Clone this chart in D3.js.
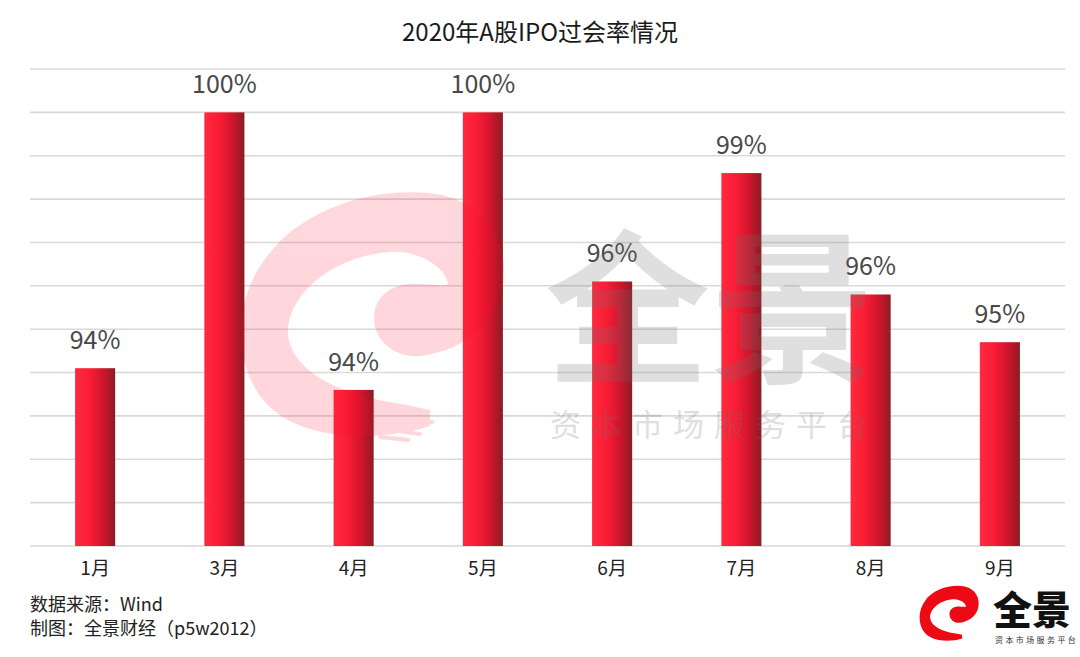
<!DOCTYPE html>
<html>
<head>
<meta charset="utf-8">
<script src="https://cdn.jsdelivr.net/npm/d3@7"></script>
<style>
  html, body { margin: 0; padding: 0; background: #fff; }
  body { width: 1080px; height: 657px; overflow: hidden; }
  text { font-family: "Noto Sans CJK SC", "Noto Sans", sans-serif; }
</style>
</head>
<body>
<div id="chart"></div>
<script>
// Data
const months = ["1月", "3月", "4月", "5月", "6月", "7月", "8月", "9月"];
const passRates = [94.1, 100, 93.6, 100, 96.1, 98.6, 95.8, 94.7];
const rateLabels = ["94%", "100%", "94%", "100%", "96%", "99%", "96%", "95%"];
const gridTicks = [90, 91, 92, 93, 94, 95, 96, 97, 98, 99, 100, 101];

const width = 1080, height = 657;

// Set up the SVG
const svg = d3.select("#chart")
    .append("svg")
    .attr("width", width)
    .attr("height", height);

const defs = svg.append("defs");
const grad = defs.append("linearGradient")
    .attr("id", "barGrad")
    .attr("x1", "0%").attr("x2", "100%")
    .attr("y1", "0%").attr("y2", "0%");
grad.append("stop").attr("offset", "0%").attr("stop-color", "#ff2a3e");
grad.append("stop").attr("offset", "35%").attr("stop-color", "#f91d35");
grad.append("stop").attr("offset", "70%").attr("stop-color", "#cf152c");
grad.append("stop").attr("offset", "100%").attr("stop-color", "#8c1c24");

// Scales
const xScale = d3.scaleBand()
    .domain(months)
    .range([30.5, 1064.5])
    .paddingInner(0.69)
    .paddingOuter(0.345);

const yScale = d3.scaleLinear().domain([90, 101]).range([546, 69]);

// Title
svg.append("text")
    .attr("x", width / 2)
    .attr("y", 41)
    .attr("text-anchor", "middle")
    .style("font-size", "24px")
    .style("fill", "#1a1a1a")
    .text("2020年A股IPO过会率情况");

// Gridlines (the lowest one is the axis line)
svg.append("g")
    .attr("class", "grid")
    .selectAll("line")
    .data(gridTicks)
    .enter().append("line")
    .attr("x1", 30)
    .attr("x2", 1065)
    .attr("y1", d => yScale(d))
    .attr("y2", d => yScale(d))
    .attr("stroke", "#d9d9d9")
    .attr("stroke-width", 1.6);

// Bars
svg.append("g")
    .selectAll("rect")
    .data(passRates)
    .enter().append("rect")
    .attr("x", (d, i) => xScale(months[i]))
    .attr("y", d => yScale(d))
    .attr("width", xScale.bandwidth())
    .attr("height", d => yScale(90) - yScale(d))
    .attr("fill", "url(#barGrad)");

// Value labels
svg.append("g")
    .selectAll("text")
    .data(passRates)
    .enter().append("text")
    .attr("x", (d, i) => xScale(months[i]) + xScale.bandwidth() / 2)
    .attr("y", d => yScale(d) - 19)
    .attr("text-anchor", "middle")
    .style("font-size", "25px")
    .style("fill", "#484848")
    .text((d, i) => rateLabels[i]);

// X axis labels
const xAxis = svg.append("g")
    .attr("transform", "translate(0, 546)")
    .call(d3.axisBottom(xScale).tickSize(0).tickPadding(16));
xAxis.select(".domain").remove();
xAxis.selectAll("text")
    .style("font-family", "'Noto Sans CJK SC', sans-serif")
    .style("font-size", "19px")
    .style("fill", "#222");

// Swirl logo path (watermark + corner logo)
const swirl = "M430,426 C380,442 300,442 265,402 C232,365 234,298 266,258 " +
    "C302,206 382,184 442,195 C492,206 512,252 501,292 C490,332 455,352 420,356 " +
    "C395,358 374,341 374,318 C374,298 390,285 410,284 C426,283 440,287 448,284 " +
    "C446,268 420,250 390,252 C330,256 285,298 288,335 C292,372 342,396 402,404 " +
    "L430,410 Z";

const wm = svg.append("g").attr("opacity", 0.16);
wm.append("path").attr("d", swirl).attr("fill", "#ff0a2a");
[[395, 410, 428, 413], [400, 420, 432, 422], [392, 430, 420, 434], [380, 437, 408, 440]].forEach(s => {
    wm.append("line")
        .attr("x1", s[0]).attr("y1", s[1]).attr("x2", s[2]).attr("y2", s[3])
        .attr("stroke", "#ff0a2a").attr("stroke-width", 4).attr("stroke-linecap", "round");
});

// Gray watermark text
const gw = svg.append("g").attr("opacity", 0.22);
gw.append("text")
    .attr("x", 545)
    .attr("y", 370)
    .style("font-size", "165px")
    .style("font-weight", "700")
    .style("fill", "#707070")
    .text("全景");
gw.append("text")
    .attr("x", 550)
    .attr("y", 436)
    .style("font-size", "31px")
    .style("letter-spacing", "10px")
    .style("fill", "#707070")
    .text("资本市场服务平台");

// Source notes
svg.append("text")
    .attr("x", 30).attr("y", 611)
    .style("font-size", "18px").style("fill", "#222")
    .text("数据来源：Wind");
svg.append("text")
    .attr("x", 30).attr("y", 635)
    .style("font-size", "18px").style("fill", "#222")
    .text("制图：全景财经（p5w2012）");

// Corner logo
const logo = svg.append("g");
logo.append("path")
    .attr("d", swirl)
    .attr("fill", "#ee0a14")
    .attr("transform", "translate(918,584) scale(0.225) translate(-234,-184)");
logo.append("text")
    .attr("x", 993).attr("y", 624)
    .style("font-size", "39px").style("font-weight", "900").style("fill", "#111")
    .text("全景");
logo.append("text")
    .attr("x", 995).attr("y", 643)
    .style("font-size", "8px").style("letter-spacing", "2.4px").style("fill", "#333")
    .text("资本市场服务平台");
</script>
</body>
</html>
